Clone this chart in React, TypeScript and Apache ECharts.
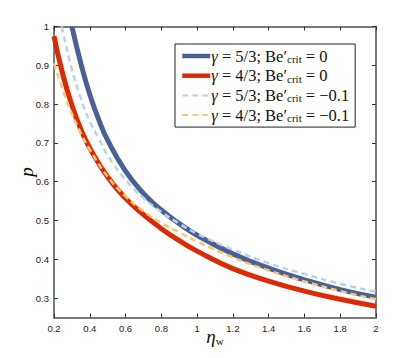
import React, { useEffect, useRef } from "react";
import * as echarts from "echarts";

const xTicks = [0.2, 0.4, 0.6, 0.8, 1, 1.2, 1.4, 1.6, 1.8, 2];
const yTicks = [0.3, 0.4, 0.5, 0.6, 0.7, 0.8, 0.9, 1];

const seriesNames = ["g53b0", "g43b0", "g53b01", "g43b01"];
const legendGamma = ["5/3", "4/3", "5/3", "4/3"];
const legendBe = ["0", "0", "\u22120.1", "\u22120.1"];

const etaBlue = [0.3, 0.35, 0.4, 0.45, 0.5, 0.6, 0.7, 0.8, 0.9, 1.0, 1.2, 1.4, 1.6, 1.8, 2.0];
const pBlue = [1.0, 0.905, 0.825, 0.76, 0.707, 0.627, 0.57, 0.527, 0.492, 0.462, 0.414, 0.377, 0.347, 0.322, 0.302];

const etaRed = [0.2, 0.25, 0.3, 0.35, 0.4, 0.5, 0.6, 0.7, 0.8, 0.9, 1.0, 1.2, 1.4, 1.6, 1.8, 2.0];
const pRed = [0.975, 0.875, 0.797, 0.735, 0.687, 0.612, 0.557, 0.515, 0.479, 0.448, 0.421, 0.376, 0.344, 0.318, 0.297, 0.279];

const etaLightBlue = [0.243, 0.25, 0.3, 0.35, 0.4, 0.45, 0.5, 0.6, 0.7, 0.8, 0.9, 1.0, 1.2, 1.4, 1.6, 1.8, 2.0];
const pLightBlue = [1.0, 0.985, 0.89, 0.815, 0.755, 0.712, 0.668, 0.605, 0.558, 0.522, 0.492, 0.466, 0.425, 0.39, 0.362, 0.337, 0.316];

const etaOrange = [0.2, 0.25, 0.3, 0.35, 0.4, 0.5, 0.6, 0.7, 0.8, 0.9, 1.0, 1.2, 1.4, 1.6, 1.8, 2.0];
const pOrange = [0.905, 0.835, 0.775, 0.725, 0.683, 0.613, 0.562, 0.524, 0.494, 0.469, 0.446, 0.405, 0.371, 0.343, 0.318, 0.297];

const colors = ["#4a6196", "#dc2a05", "#b9d2f0", "#fdc66c"];
const widths = [5, 5, 2.5, 2.5];
const dashed = [false, false, true, true];

const zip = (xs: number[], ys: number[]) => xs.map((x, i) => [x, ys[i]]);

export default function App() {
  const ref = useRef<HTMLDivElement>(null);
  useEffect(() => {
    if (!ref.current) return;
    const chart = echarts.init(ref.current, undefined, { renderer: "svg" });
    const allData = [
      zip(etaBlue, pBlue),
      zip(etaRed, pRed),
      zip(etaLightBlue, pLightBlue),
      zip(etaOrange, pOrange),
    ];
    const serif = "Liberation Serif";
    const sans = "Liberation Sans";
    const axisLineStyle = { color: "#7a7a7a", width: 2 };
    const tickStyle = { color: "#333", width: 1 };
    const fmt = (v: number) => String(+(+v).toFixed(2));
    const legendMap: Record<string, string> = {};
    seriesNames.forEach((n, i) => {
      legendMap[n] =
        "{g|\u03b3}{n| = " + legendGamma[i] + "; Be\u2032}{s|crit}{n| = " + legendBe[i] + "}";
    });
    chart.setOption({
      animation: false,
      backgroundColor: "#ffffff",
      grid: { left: 54, right: 39, top: 26.5, bottom: 40.5, containLabel: false },
      legend: {
        orient: "vertical",
        left: 175,
        top: 44,
        padding: [3.5, 6, 3.5, 5],
        itemGap: 2.7,
        itemWidth: 28,
        itemHeight: 16,
        backgroundColor: "#ffffff",
        borderColor: "#222222",
        borderWidth: 1,
        borderRadius: 0,
        data: seriesNames.map((n, i) => ({
          name: n,
          itemStyle: { opacity: 0 },
          lineStyle: {
            color: colors[i],
            width: widths[i] - 0.5,
            type: dashed[i] ? [6, 4] : "solid",
            opacity: 1,
          },
        })),
        formatter: (name: string) => legendMap[name],
        textStyle: {
          fontFamily: serif,
          fontSize: 16.5,
          color: "#111",
          padding: [0, 0, 0, -4],
          rich: {
            g: { fontFamily: serif, fontStyle: "italic", fontSize: 16.5, lineHeight: 17, verticalAlign: "middle", color: "#111" },
            n: { fontFamily: serif, fontSize: 16.5, lineHeight: 17, verticalAlign: "middle", color: "#111" },
            s: { fontFamily: serif, fontSize: 11, lineHeight: 10, verticalAlign: "bottom", color: "#111" },
          },
        },
      },
      xAxis: [
        {
          type: "value",
          min: 0.2,
          max: 2,
          interval: 0.2,
          position: "bottom",
          name: "{e|\u03b7}{w|w}",
          nameLocation: "middle",
          nameGap: 9,
          nameMoveOverlap: false,
          nameTextStyle: {
            rich: {
              e: { fontFamily: serif, fontStyle: "italic", fontSize: 19, lineHeight: 20, verticalAlign: "middle", color: "#111" },
              w: { fontFamily: serif, fontSize: 11, lineHeight: 11, verticalAlign: "bottom", color: "#111" },
            },
          },
          axisLine: { show: true, onZero: false, lineStyle: axisLineStyle },
          axisTick: { show: true, inside: true, length: 4, lineStyle: tickStyle },
          axisLabel: { show: true, fontFamily: sans, fontSize: 9.5, color: "#222", margin: 6, formatter: fmt },
          splitLine: { show: false },
        },
        {
          type: "value",
          min: 0.2,
          max: 2,
          interval: 0.2,
          position: "top",
          axisLine: { show: true, onZero: false, lineStyle: axisLineStyle },
          axisTick: { show: true, inside: true, length: 4, lineStyle: tickStyle },
          axisLabel: { show: false },
          splitLine: { show: false },
        },
      ],
      yAxis: [
        {
          type: "value",
          min: 0.25,
          max: 1,
          position: "left",
          name: "p",
          nameLocation: "middle",
          nameGap: 18,
          nameMoveOverlap: false,
          nameTextStyle: { fontFamily: serif, fontStyle: "italic", fontSize: 19, color: "#111" },
          axisLine: { show: true, onZero: false, lineStyle: axisLineStyle },
          axisTick: { show: true, inside: true, length: 4, lineStyle: tickStyle, customValues: yTicks },
          axisLabel: { show: true, fontFamily: sans, fontSize: 9.5, color: "#222", margin: 5, formatter: fmt, customValues: yTicks },
          splitLine: { show: false },
        },
        {
          type: "value",
          min: 0.25,
          max: 1,
          position: "right",
          axisLine: { show: true, onZero: false, lineStyle: axisLineStyle },
          axisTick: { show: true, inside: true, length: 4, lineStyle: tickStyle, customValues: yTicks },
          axisLabel: { show: false, customValues: yTicks },
          splitLine: { show: false },
        },
      ],
      series: seriesNames.map((n, i) => ({
        name: n,
        type: "line",
        xAxisIndex: 0,
        yAxisIndex: 0,
        data: allData[i],
        smooth: 0.5,
        symbol: "none",
        showSymbol: false,
        clip: true,
        color: colors[i],
        lineStyle: {
          color: colors[i],
          width: widths[i],
          type: dashed[i] ? [6, 4] : "solid",
          cap: "butt",
        },
        itemStyle: { color: colors[i] },
        emphasis: { disabled: true },
        z: 2 + i,
      })),
    });
    return () => chart.dispose();
  }, []);
  return (
    <div
      ref={ref}
      style={{ position: "fixed", left: 0, top: 0, width: 415, height: 358, background: "#fff" }}
    />
  );
}
